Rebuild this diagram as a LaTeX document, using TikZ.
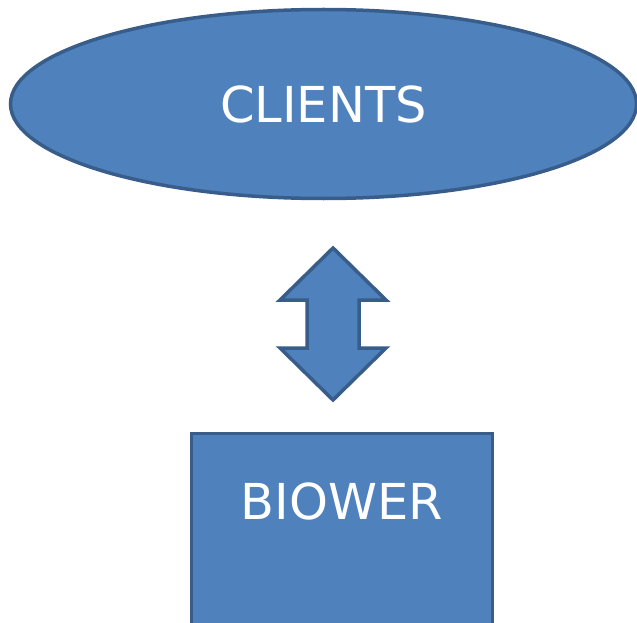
\documentclass[tikz,border=0pt]{standalone}
\usepackage{fontspec}
\setmainfont{DejaVu Sans}
\usetikzlibrary{
    positioning,
    shapes.geometric
    }

\definecolor{boxfill}{HTML}{4F81BD}
\definecolor{boxline}{HTML}{385D8A}

\begin{document}
\begin{tikzpicture}[x=1pt, y=-1pt]
% chktex-file 1
\tikzset{block/.style =
        {
            line width=3.5pt,
            draw=boxline,
            fill=boxfill,
            text=white,
            inner sep=0pt,
            font=\fontsize{49.5}{59}\selectfont
        }
}

\tikzset{party/.style =
        {
            block,
            shape=ellipse,
            minimum width=626pt,
            minimum height=189pt
        }
}

\tikzset{server/.style =
        {
            block,
            shape=rectangle,
            minimum width=301pt,
            text height=86.5pt,
            text depth=112pt
        }
}

\tikzset{link/.style =
        {
            block,
            line join=miter
        }
}

		\useasboundingbox (0,0) rectangle (637,623);

		\node[party] at (323.5,104) (clients) {CLIENTS};
		\node[server, anchor=north] at (342,431.5) (biower) {BIOWER};

		\coordinate (mid) at (333,324);
		\begin{scope}[shift={(mid)}]
			\draw[link] (0,-76) -- (53,-24) -- (26,-24) -- (26,24) -- (53,24)
			-- (0,76) -- (-53,24) -- (-26,24) -- (-26,-24) -- (-53,-24) -- cycle;
		\end{scope}

	\end{tikzpicture}
\end{document}
